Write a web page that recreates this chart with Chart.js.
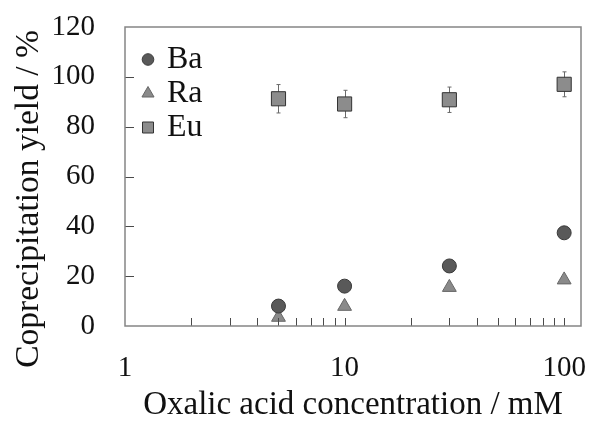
<!DOCTYPE html>
<html>
<head>
<meta charset="utf-8">
<script src="https://cdn.jsdelivr.net/npm/chart.js@4/dist/chart.umd.min.js"></script>
<style>
  html, body { margin: 0; padding: 0; background: #ffffff; }
  #wrap { width: 592px; height: 421px; position: relative; }
</style>
</head>
<body>
<div id="wrap"><canvas id="c" width="592" height="421"></canvas></div>
<script>
// ---- data ----
const concentrations = [5, 10, 30, 100];          // mM
const baYield = [8.0, 16.0, 24.1, 37.4];          // %
const raYield = [3.5, 7.9, 15.5, 18.5];           // %
const euYield = [91.2, 89.1, 90.8, 97.0];         // %
const euError = [5.7, 5.5, 5.1, 5.0];             // ± %
const seriesNames = ['Ba', 'Ra', 'Eu'];
const xTickValues = [1,2,3,4,5,6,7,8,9,10,20,30,40,50,60,70,80,90,100];
const xTickLabels = ['1', '10', '100'];
const yTickValues = [0, 20, 40, 60, 80, 100, 120];
const xTitle = 'Oxalic acid concentration / mM';
const yTitle = 'Coprecipitation yield / %';

const FONT = "'Liberation Serif', 'Times New Roman', serif";

function pts(xs, ys) { return xs.map((x, i) => ({ x: x, y: ys[i] })); }

const styles = [
  { pointStyle: 'circle',   radius: 7,  bg: '#595959', border: '#3a3a3a' },
  { pointStyle: 'triangle', radius: 8,  bg: '#8a8a8a', border: '#666666' },
  { pointStyle: 'rect',     radius: 10, bg: '#8c8c8c', border: '#333333' }
];

const boxPlugin = {
  id: 'boxAndTicks',
  afterDatasetsDraw(chart) {
    const { ctx, chartArea: a, scales } = chart;
    ctx.save();
    ctx.strokeStyle = '#4a4a4a';
    ctx.lineWidth = 1;
    ctx.beginPath();
    scales.x.ticks.forEach(t => {
      if (t.value <= 1) return;
      const px = Math.round(scales.x.getPixelForValue(t.value)) + 0.5;
      ctx.moveTo(px, a.bottom);
      ctx.lineTo(px, a.bottom - 8);
    });
    scales.y.ticks.forEach(t => {
      if (t.value <= 0 || t.value >= 120) return;
      const py = Math.round(scales.y.getPixelForValue(t.value)) + 0.5;
      ctx.moveTo(a.left, py);
      ctx.lineTo(a.left + 9, py);
    });
    ctx.stroke();
    ctx.strokeStyle = '#858585';
    ctx.lineWidth = 1.5;
    ctx.strokeRect(a.left, a.top, a.right - a.left, a.bottom - a.top);
    ctx.restore();
  }
};

const errorBarPlugin = {
  id: 'errorBars',
  beforeDatasetsDraw(chart) {
    const { ctx, scales } = chart;
    ctx.save();
    ctx.strokeStyle = '#6a6a6a';
    ctx.lineWidth = 1;
    ctx.beginPath();
    concentrations.forEach((c, i) => {
      const px = Math.round(scales.x.getPixelForValue(c)) + 0.5;
      const top = scales.y.getPixelForValue(euYield[i] + euError[i]);
      const bot = scales.y.getPixelForValue(euYield[i] - euError[i]);
      ctx.moveTo(px, top); ctx.lineTo(px, bot);
      ctx.moveTo(px - 2, top); ctx.lineTo(px + 2, top);
      ctx.moveTo(px - 2, bot); ctx.lineTo(px + 2, bot);
    });
    ctx.stroke();
    ctx.restore();
  }
};

const legendAndTitlePlugin = {
  id: 'legendAndTitle',
  afterDraw(chart) {
    const { ctx, chartArea: a } = chart;
    ctx.save();
    ctx.font = '33.5px ' + FONT;
    ctx.fillStyle = '#111111';
    ctx.textAlign = 'center';
    ctx.textBaseline = 'alphabetic';
    ctx.translate(38, 199);
    ctx.rotate(-Math.PI / 2);
    ctx.fillText(yTitle, 0, 0);
    ctx.restore();

    ctx.save();
    const mx = a.left + 23, tx = a.left + 42;
    const rows = [a.top + 32.5, a.top + 66.5, a.top + 100.5];
    chart.data.datasets.forEach((ds, i) => {
      const y = rows[i];
      ctx.fillStyle = ds.backgroundColor;
      ctx.strokeStyle = ds.borderColor;
      ctx.lineWidth = 1;
      ctx.beginPath();
      if (ds.pointStyle === 'circle') {
        ctx.arc(mx, y, 5.8, 0, Math.PI * 2);
      } else if (ds.pointStyle === 'triangle') {
        const r = 7;
        ctx.moveTo(mx, y - r);
        ctx.lineTo(mx + r * Math.sin(2 * Math.PI / 3), y + r / 2);
        ctx.lineTo(mx - r * Math.sin(2 * Math.PI / 3), y + r / 2);
        ctx.closePath();
      } else {
        ctx.rect(mx - 5.5, y - 5.5, 11, 11);
      }
      ctx.fill();
      ctx.stroke();
      ctx.fillStyle = '#111111';
      ctx.font = '32px ' + FONT;
      ctx.textAlign = 'left';
      ctx.textBaseline = 'middle';
      ctx.fillText(ds.label, tx, y);
    });
    ctx.restore();
  }
};

const datasets = [baYield, raYield, euYield].map((ys, i) => ({
  label: seriesNames[i],
  data: pts(concentrations, ys),
  pointStyle: styles[i].pointStyle,
  pointRadius: styles[i].radius,
  pointHoverRadius: styles[i].radius,
  backgroundColor: styles[i].bg,
  borderColor: styles[i].border,
  pointBackgroundColor: styles[i].bg,
  pointBorderColor: styles[i].border,
  pointBorderWidth: 1,
  showLine: false
}));

new Chart(document.getElementById('c'), {
  type: 'scatter',
  data: { datasets: datasets },
  plugins: [errorBarPlugin, boxPlugin, legendAndTitlePlugin],
  options: {
    responsive: false,
    animation: false,
    events: [],
    layout: { padding: { top: 27, right: 6, left: 0, bottom: 0 } },
    plugins: { legend: { display: false }, tooltip: { enabled: false } },
    scales: {
      x: {
        type: 'logarithmic',
        min: 1,
        max: 119.3,
        afterBuildTicks(scale) { scale.ticks = xTickValues.map(v => ({ value: v })); },
        afterFit(scale) { scale.height = 95; scale.paddingLeft = 0; scale.paddingRight = 0; },
        grid: { display: false, drawTicks: false },
        border: { display: false },
        ticks: {
          autoSkip: false,
          maxRotation: 0,
          padding: 25,
          color: '#111111',
          font: { family: FONT, size: 29 },
          callback(v) { const s = String(v); return xTickLabels.includes(s) ? s : ''; }
        },
        title: {
          display: true,
          text: xTitle,
          color: '#111111',
          font: { family: FONT, size: 33, lineHeight: 1 },
          padding: { top: 0, bottom: -1 }
        }
      },
      y: {
        min: 0,
        max: 120,
        afterBuildTicks(scale) { scale.ticks = yTickValues.map(v => ({ value: v })); },
        afterFit(scale) { scale.width = 125; scale.paddingTop = 0; scale.paddingBottom = 0; },
        grid: { display: false, drawTicks: false },
        border: { display: false },
        ticks: {
          padding: 30,
          color: '#111111',
          font: { family: FONT, size: 29 }
        }
      }
    }
  }
});
</script>
</body>
</html>
